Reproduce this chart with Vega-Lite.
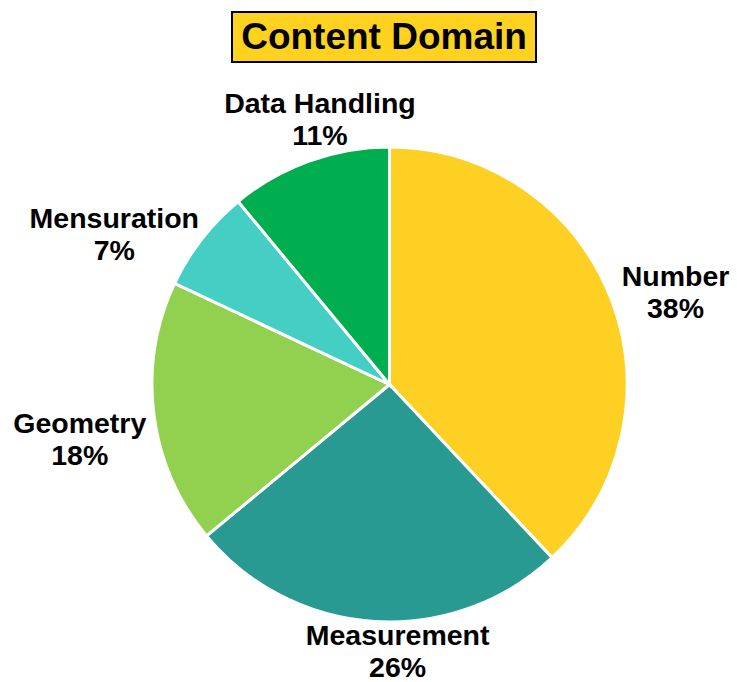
{
  "$schema": "https://vega.github.io/schema/vega-lite/v6.json",
  "background": "white",
  "padding": {"left": 13, "top": 11, "right": 7, "bottom": 0},
  "config": {"view": {"stroke": null}, "font": "Liberation Sans"},
  "bounds": "flush",
  "spacing": 85,
  "vconcat": [
    {
      "width": 304,
      "height": 50,
      "view": {"fill": "#FFD220", "stroke": "black", "strokeWidth": 2},
      "data": {"values": [{"title": "Content Domain"}]},
      "mark": {"type": "text", "fontSize": 37, "fontWeight": "bold", "font": "Liberation Sans", "color": "black", "baseline": "middle", "align": "center", "dy": 1},
      "encoding": {"text": {"field": "title"}}
    },
    {
      "width": 315,
      "height": 475,
      "data": {"values": [
        {"category": "Number", "value": 38, "rank": 1},
        {"category": "Measurement", "value": 26, "rank": 2},
        {"category": "Geometry", "value": 18, "rank": 3},
        {"category": "Mensuration", "value": 7, "rank": 4},
        {"category": "Data Handling", "value": 11, "rank": 5}
      ]},
      "transform": [{"calculate": "datum.category + '\\n' + datum.value + '%'", "as": "label"}],
      "encoding": {
        "theta": {"field": "value", "type": "quantitative", "stack": true},
        "order": {"field": "rank", "type": "quantitative"}
      },
      "layer": [
        {
          "mark": {"type": "arc", "outerRadius": 237.5, "stroke": "white", "strokeWidth": 3},
          "encoding": {
            "color": {"field": "category", "type": "nominal", "legend": null,
              "scale": {"domain": ["Number", "Measurement", "Geometry", "Mensuration", "Data Handling"],
                        "range": ["#FDD023", "#289A92", "#92D050", "#45CEC4", "#00AE50"]}}
          }
        },
        {
          "mark": {"type": "text", "radius": 285, "fontSize": 28.5, "fontWeight": "bold", "font": "Liberation Sans", "lineHeight": 32, "lineBreak": "\n", "color": "black", "align": "center", "baseline": "middle",
            "dx": {"expr": "datum.category == 'Number' ? 21 : datum.category == 'Measurement' ? 26 : datum.category == 'Geometry' ? -27 : datum.category == 'Mensuration' ? -50 : 27"},
            "dy": {"expr": "datum.category == 'Number' ? -3 : datum.category == 'Measurement' ? -33 : datum.category == 'Geometry' ? 4 : datum.category == 'Mensuration' ? 9 : -12"}},
          "encoding": {"text": {"field": "label"}}
        }
      ]
    }
  ]
}
